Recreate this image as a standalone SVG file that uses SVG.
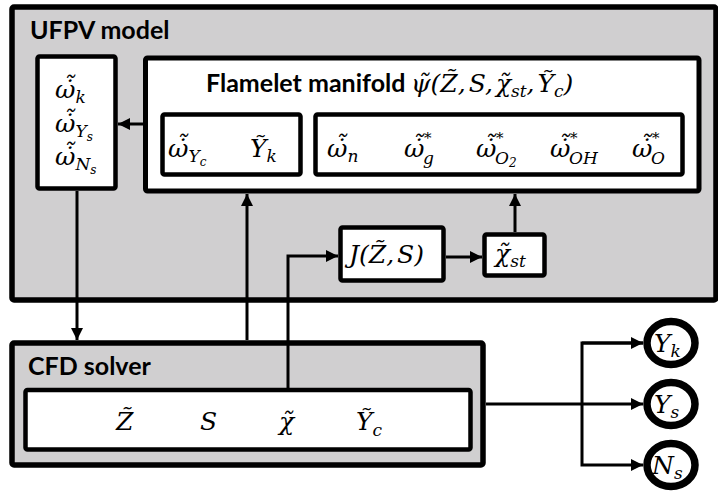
<svg xmlns="http://www.w3.org/2000/svg" width="718" height="492" viewBox="0 0 718 492">
<style>
.panel{fill:#d0cfd0;stroke:#000;stroke-width:5.5}
.box{fill:#fff;stroke:#000;stroke-width:5}
.ibox{fill:#fff;stroke:#000;stroke-width:4.5}
.ring{fill:#fff;stroke:#000;stroke-width:7.5}
.lbl{font-family:Lato,"Open Sans","Liberation Sans",sans-serif;font-weight:700;font-size:25px;fill:#000}
.m{font-family:"DejaVu Serif","Liberation Serif",serif;font-style:italic;font-size:25px;fill:#000}
.s{font-size:17px}
.ss{font-size:12px}
.st{font-size:15px}
.conn{fill:none;stroke:#000;stroke-width:3}
</style>
<defs>
<marker id="ah" markerUnits="userSpaceOnUse" markerWidth="12" markerHeight="12" refX="12" refY="6" orient="auto" viewBox="0 0 12 12">
<path d="M0,0 L12,6 L0,12 z" fill="#000"/>
</marker>
</defs>
<rect x="0" y="0" width="718" height="492" fill="#fff"/>

<g id="ufpv">
<rect class="panel" x="12" y="7" width="704" height="293" rx="2"/>
<text class="lbl" x="30" y="39">UFPV model</text>
</g>

<g id="cfd">
<rect class="panel" x="12" y="343" width="471" height="122" rx="2"/>
<text class="lbl" x="28" y="375">CFD solver</text>
</g>

<g id="connectors">
<path class="conn" d="M145,124 H118" marker-end="url(#ah)"/>
<path class="conn" d="M77,191 V340" marker-end="url(#ah)"/>
<path class="conn" d="M247,340 V194" marker-end="url(#ah)"/>
<path class="conn" d="M288,388 V256 H338" marker-end="url(#ah)"/>
<path class="conn" d="M446,257 H482" marker-end="url(#ah)"/>
<path class="conn" d="M515,232 V194" marker-end="url(#ah)"/>
<path class="conn" d="M486,404 H643" marker-end="url(#ah)"/>
<path class="conn" d="M643,343 H582 V465 H643" marker-end="url(#ah)"/>
<path class="conn" d="M582,343 H643" marker-end="url(#ah)"/>
</g>

<g id="cfd-vars">
<rect class="ibox" x="25.5" y="390" width="445" height="59.5" rx="2"/>
<text class="m" x="116" y="430">Z̃</text>
<text class="m" x="200" y="430">S</text>
<text class="m" x="279" y="430">χ̃</text>
<text class="m" x="356" y="430">Ỹ<tspan class="s" dy="6">c</tspan></text>
</g>

<g id="source-terms">
<rect class="ibox" x="37.5" y="56.5" width="78" height="132" rx="2"/>
<text class="m" x="55" y="98">ω̇̃<tspan class="s" dy="5">k</tspan></text>
<text class="m" x="55" y="132">ω̇̃<tspan class="s" dy="5">Y</tspan><tspan class="ss" dy="4">s</tspan></text>
<text class="m" x="55" y="165">ω̇̃<tspan class="s" dy="5">N</tspan><tspan class="ss" dy="4">s</tspan></text>
</g>

<g id="manifold">
<rect class="box" x="145.5" y="58" width="553.5" height="133" rx="2"/>
<text class="lbl" x="206" y="92">Flamelet manifold</text>
<text class="m" x="411" y="92">ψ̃(Z̃,<tspan dx="3">S</tspan>,<tspan dx="3">χ̃</tspan><tspan class="s" dy="5">st</tspan><tspan dy="-5">,</tspan><tspan dx="3">Ỹ</tspan><tspan class="s" dy="5">c</tspan><tspan dy="-5">)</tspan></text>
</g>

<g id="manifold-a">
<rect class="ibox" x="162.5" y="114.5" width="138" height="60" rx="2"/>
<text class="m" x="168" y="157">ω̇̃<tspan class="s" dy="5">Y</tspan><tspan class="ss" dy="4">c</tspan></text>
<text class="m" x="250" y="157">Ỹ<tspan class="s" dy="5">k</tspan></text>
</g>

<g id="manifold-b">
<rect class="ibox" x="315.5" y="114.5" width="367" height="60" rx="2"/>
<text class="m" x="327" y="157">ω̇̃<tspan class="s" dy="5">n</tspan></text>
<text class="m" x="404" y="157">ω̇̃</text>
<text class="m st" x="424" y="143">*</text>
<text class="m s" x="423" y="164">g</text>
<text class="m" x="476" y="157">ω̇̃</text>
<text class="m st" x="496" y="143">*</text>
<text class="m s" x="495" y="164">O<tspan class="ss" dy="3">2</tspan></text>
<text class="m" x="550" y="157">ω̇̃</text>
<text class="m st" x="570" y="143">*</text>
<text class="m s" x="569" y="164">OH</text>
<text class="m" x="632" y="157">ω̇̃</text>
<text class="m st" x="652" y="143">*</text>
<text class="m s" x="651" y="164">O</text>
</g>

<g id="j-func">
<rect class="ibox" x="340.5" y="227.5" width="103" height="53" rx="2"/>
<text class="m" x="349" y="263">J(Z̃,<tspan dx="3">S</tspan>)</text>
</g>

<g id="chi-st">
<rect class="ibox" x="484.5" y="234.5" width="60" height="41" rx="2"/>
<text class="m" x="495" y="262">χ̃<tspan class="s" dy="5">st</tspan></text>
</g>

<g id="out-yk">
<ellipse class="ring" cx="671" cy="343" rx="24" ry="21.5"/>
<text class="m" x="654" y="352">Y<tspan class="s" dy="5">k</tspan></text>
</g>
<g id="out-ys">
<ellipse class="ring" cx="671" cy="404" rx="24" ry="21.5"/>
<text class="m" x="654" y="413">Y<tspan class="s" dy="5">s</tspan></text>
</g>
<g id="out-ns">
<ellipse class="ring" cx="671" cy="465" rx="24" ry="21.5"/>
<text class="m" x="652" y="474">N<tspan class="s" dy="5">s</tspan></text>
</g>
</svg>
